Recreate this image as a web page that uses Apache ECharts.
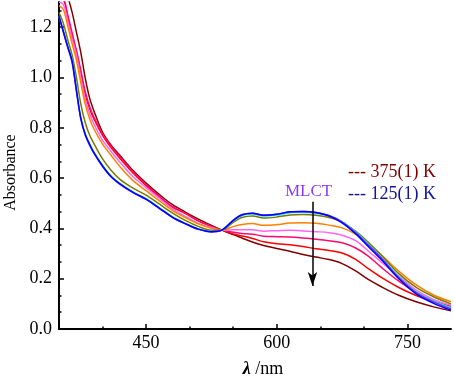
<!DOCTYPE html>
<html>

<head>
    <meta charset="utf-8">
    <script src="https://cdn.jsdelivr.net/npm/echarts@6/dist/echarts.min.js"></script>
</head>

<body style="margin:0">
    <div id="main" style="width: 454px;height:376px;"></div>

    <script type="text/javascript">
        // wavelength grid (nm)
        var wavelength = [350, 355, 360, 365, 370, 375, 380, 385, 390,
            400, 410, 420, 435, 450, 465, 480, 495, 510, 525,
            537,
            550, 560, 572, 585, 600, 615, 630, 645, 660, 675,
            690, 705, 720, 740, 760, 780, 800];

        // absorbance, one array per temperature (375 K -> 125 K)
        var maroon = [1.36, 1.36, 1.32, 1.26, 1.18, 1.10, 1.0, 0.92, 0.868,
            0.782, 0.73, 0.69, 0.63, 0.58, 0.535, 0.495, 0.465, 0.437, 0.412,
            0.393,
            0.375, 0.362, 0.346, 0.332, 0.32, 0.309, 0.296, 0.286, 0.276, 0.26,
            0.232, 0.197, 0.168, 0.134, 0.108, 0.088, 0.072];
        var red = [1.31, 1.31, 1.24, 1.17, 1.10, 1.02, 0.935, 0.878, 0.836,
            0.77, 0.72, 0.678, 0.62, 0.57, 0.525, 0.485, 0.46, 0.43, 0.408,
            0.393,
            0.378, 0.37, 0.36, 0.347, 0.339, 0.335, 0.328, 0.319, 0.312, 0.302,
            0.278, 0.24, 0.205, 0.165, 0.133, 0.108, 0.088];
        var crimson = [1.32, 1.31, 1.25, 1.178, 1.108, 1.03, 0.945, 0.886, 0.843,
            0.776, 0.726, 0.684, 0.625, 0.574, 0.528, 0.487, 0.46, 0.43, 0.408,
            0.393,
            0.385, 0.38, 0.377, 0.369, 0.367, 0.366, 0.362, 0.357, 0.351, 0.343,
            0.323, 0.29, 0.245, 0.19, 0.145, 0.112, 0.09];
        var pink = [1.30, 1.29, 1.225, 1.155, 1.09, 1.0, 0.915, 0.858, 0.816,
            0.75, 0.705, 0.663, 0.605, 0.562, 0.52, 0.478, 0.448, 0.42, 0.403,
            0.393,
            0.395, 0.395, 0.395, 0.389, 0.391, 0.393, 0.39, 0.387, 0.383, 0.373,
            0.352, 0.31, 0.266, 0.21, 0.155, 0.118, 0.095];
        var orange = [1.285, 1.27, 1.205, 1.135, 1.069, 0.98, 0.895, 0.838, 0.796,
            0.735, 0.69, 0.645, 0.59, 0.55, 0.51, 0.472, 0.443, 0.418, 0.40,
            0.393,
            0.407, 0.415, 0.419, 0.412, 0.415, 0.421, 0.422, 0.42, 0.413, 0.402,
            0.378, 0.34, 0.295, 0.23, 0.175, 0.135, 0.108];
        var olive = [1.258, 1.215, 1.15, 1.09, 1.0, 0.895, 0.822, 0.772, 0.738,
            0.676, 0.63, 0.595, 0.56, 0.532, 0.497, 0.462, 0.432, 0.408, 0.393,
            0.393,
            0.424, 0.443, 0.449, 0.441, 0.445, 0.453, 0.455, 0.452, 0.443, 0.425,
            0.39, 0.345, 0.293, 0.22, 0.165, 0.128, 0.1];
        var cyan = [1.245, 1.185, 1.125, 1.069, 0.955, 0.84, 0.777, 0.737, 0.704,
            0.65, 0.607, 0.578, 0.545, 0.518, 0.483, 0.447, 0.42, 0.398, 0.388,
            0.393,
            0.43, 0.451, 0.457, 0.449, 0.453, 0.462, 0.464, 0.46, 0.45, 0.427,
            0.387, 0.338, 0.285, 0.208, 0.148, 0.112, 0.085];
        var violet = [1.24, 1.18, 1.12, 1.06, 0.945, 0.835, 0.772, 0.732, 0.699,
            0.646, 0.604, 0.575, 0.542, 0.515, 0.48, 0.444, 0.418, 0.396, 0.386,
            0.393,
            0.432, 0.454, 0.46, 0.452, 0.456, 0.466, 0.467, 0.463, 0.451, 0.425,
            0.384, 0.334, 0.282, 0.205, 0.145, 0.108, 0.08];
        var blue = [1.245, 1.183, 1.122, 1.065, 0.95, 0.838, 0.774, 0.735, 0.701,
            0.648, 0.605, 0.577, 0.543, 0.516, 0.481, 0.445, 0.419, 0.397, 0.387,
            0.393,
            0.432, 0.454, 0.46, 0.452, 0.456, 0.466, 0.467, 0.463, 0.449, 0.422,
            0.38, 0.328, 0.276, 0.2, 0.14, 0.102, 0.075];

        var xMajor = [450, 600, 750];
        var xMinor = [400, 500, 550, 650, 700];
        var yMajor = [0, 0.2, 0.4, 0.6, 0.8, 1.0, 1.2];
        var yMinor = [0.0667, 0.1333, 0.2667, 0.3333, 0.4667, 0.5333, 0.6667, 0.7333,
            0.8667, 0.9333, 1.0667, 1.1333, 1.2667];

        // MLCT arrow, from / to (nm, absorbance)
        var arrow = [[641, 0.506], [641, 0.171]];

        var curves = [
            { name: '375 K', color: '#800000', data: maroon },
            { name: 'red', color: '#ff0000', data: red },
            { name: 'crimson', color: '#ff0a6c', data: crimson },
            { name: 'pink', color: '#ff66f0', data: pink },
            { name: 'orange', color: '#ff8000', data: orange },
            { name: 'olive', color: '#7a7a00', data: olive },
            { name: 'cyan', color: '#00e5f0', data: cyan },
            { name: 'violet', color: '#8a2be2', data: violet },
            { name: '125 K', color: '#0000ff', data: blue }
        ];

        var font = 'Liberation Serif';

        var series = curves.map(function (c) {
            return {
                name: c.name,
                type: 'line',
                smooth: 0.35,
                showSymbol: false,
                clip: true,
                lineStyle: { color: c.color, width: 1.5 },
                data: wavelength.map(function (w, i) { return [w, c.data[i]]; })
            };
        });

        series[0].markLine = {
            silent: true,
            symbol: ['none', 'arrow'],
            symbolSize: [7, 14],
            label: { show: false },
            lineStyle: { color: '#000', width: 1.5, type: 'solid' },
            data: [[{ coord: arrow[0] }, { coord: arrow[1] }]]
        };

        var myChart = echarts.init(document.getElementById('main'));

        option = {
            animation: false,
            grid: { left: 59, right: 3, top: 2, bottom: 47, containLabel: false, outerBoundsMode: 'none' },
            xAxis: [{
                type: 'value',
                min: 350,
                max: 800,
                interval: 50,
                position: 'bottom',
                name: '{l|λ} /nm',
                nameLocation: 'middle',
                nameGap: 31,
                nameTextStyle: {
                    fontFamily: font, fontSize: 18, color: '#000',
                    padding: [0, 0, 0, 16],
                    rich: { l: { fontFamily: font, fontSize: 18, fontWeight: 'bold', fontStyle: 'italic', color: '#000' } }
                },
                axisLine: { lineStyle: { color: '#000', width: 2 } },
                axisTick: { customValues: xMajor, inside: true, length: 5, lineStyle: { color: '#000', width: 1.5 } },
                axisLabel: { customValues: xMajor, fontFamily: font, fontSize: 18, color: '#000', margin: 5 },
                splitLine: { show: false }
            }, {
                type: 'value',
                min: 350,
                max: 800,
                interval: 50,
                position: 'bottom',
                axisLine: { show: false },
                axisTick: { customValues: xMinor, inside: true, length: 2.5, lineStyle: { color: '#000', width: 1.5 } },
                axisLabel: { show: false },
                splitLine: { show: false }
            }],
            yAxis: [{
                type: 'value',
                min: 0,
                max: 1.3,
                interval: 0.1,
                position: 'left',
                name: 'Absorbance',
                nameLocation: 'middle',
                nameGap: 40,
                nameTextStyle: { fontFamily: font, fontSize: 16, color: '#000', padding: [0, 14, 0, 0] },
                axisLine: { show: true, lineStyle: { color: '#000', width: 2 } },
                axisTick: { customValues: yMajor, inside: true, length: 5, lineStyle: { color: '#000', width: 1.5 } },
                axisLabel: {
                    customValues: yMajor, fontFamily: font, fontSize: 18, color: '#000', margin: 7,
                    formatter: function (v) { return v.toFixed(1); }
                },
                splitLine: { show: false }
            }, {
                type: 'value',
                min: 0,
                max: 1.3,
                interval: 0.1,
                position: 'left',
                axisLine: { show: false },
                axisTick: { customValues: yMinor, inside: true, length: 2.5, lineStyle: { color: '#000', width: 1.5 } },
                axisLabel: { show: false },
                splitLine: { show: false }
            }],
            graphic: [
                { type: 'text', left: 348, top: 163, style: { text: '--- 375(1) K', fill: '#800000', font: '18px "Liberation Serif"' } },
                { type: 'text', left: 348, top: 185, style: { text: '--- 125(1) K', fill: '#141496', font: '18px "Liberation Serif"' } },
                { type: 'text', left: 285, top: 183, style: { text: 'MLCT', fill: '#8a3cf5', font: '17px "Liberation Serif"' } }
            ],
            series: series
        };
        myChart.setOption(option);
    </script>

</body>

</html>
